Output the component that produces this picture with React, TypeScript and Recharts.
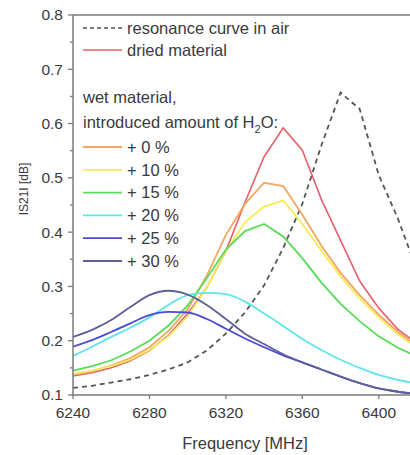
import { LineChart, Line, XAxis, YAxis, ReferenceLine } from 'recharts';

// frequency grid [MHz]
const freqs = [6240, 6250, 6260, 6270, 6280, 6290, 6300, 6310, 6320, 6330, 6340, 6350, 6360, 6370, 6380, 6390, 6400, 6410, 6420];

// |S21| [dB]
const air = [0.113, 0.117, 0.123, 0.129, 0.137, 0.147, 0.160, 0.182, 0.213, 0.252, 0.302, 0.371, 0.452, 0.560, 0.657, 0.627, 0.505, 0.425, 0.330];
const dried = [0.135, 0.141, 0.150, 0.163, 0.182, 0.210, 0.250, 0.298, 0.365, 0.455, 0.539, 0.592, 0.551, 0.460, 0.385, 0.310, 0.260, 0.221, 0.195];
const wet0 = [0.137, 0.144, 0.154, 0.168, 0.188, 0.218, 0.258, 0.320, 0.395, 0.452, 0.491, 0.485, 0.432, 0.375, 0.325, 0.284, 0.248, 0.216, 0.190];
const wet10 = [0.139, 0.145, 0.153, 0.165, 0.183, 0.208, 0.245, 0.298, 0.365, 0.418, 0.447, 0.458, 0.415, 0.366, 0.318, 0.278, 0.243, 0.212, 0.187];
const wet15 = [0.145, 0.153, 0.164, 0.180, 0.200, 0.228, 0.265, 0.315, 0.368, 0.402, 0.415, 0.392, 0.352, 0.307, 0.268, 0.236, 0.208, 0.187, 0.171];
const wet20 = [0.172, 0.189, 0.207, 0.224, 0.243, 0.266, 0.284, 0.288, 0.286, 0.272, 0.250, 0.227, 0.203, 0.183, 0.165, 0.150, 0.137, 0.128, 0.121];
const wet25 = [0.189, 0.201, 0.216, 0.232, 0.247, 0.253, 0.252, 0.240, 0.222, 0.204, 0.188, 0.173, 0.160, 0.147, 0.134, 0.122, 0.112, 0.106, 0.102];
const wet30 = [0.207, 0.220, 0.238, 0.262, 0.284, 0.292, 0.285, 0.266, 0.240, 0.213, 0.194, 0.175, 0.160, 0.147, 0.134, 0.122, 0.112, 0.106, 0.102];

const xTicks = [6240, 6280, 6320, 6360, 6400];
const yMajor = [0.1, 0.2, 0.3, 0.4, 0.5, 0.6, 0.7, 0.8];
const yMinor = [0.15, 0.25, 0.35, 0.45, 0.55, 0.65, 0.75];

const wetSeries = [
  { key: 'wet0', label: '+ 0 %', color: '#f5a560', values: wet0, curve: 'linear' },
  { key: 'wet10', label: '+ 10 %', color: '#f3ec58', values: wet10, curve: 'linear' },
  { key: 'wet15', label: '+ 15 %', color: '#58dc58', values: wet15, curve: 'linear' },
  { key: 'wet20', label: '+ 20 %', color: '#5ee6ea', values: wet20, curve: 'monotone' },
  { key: 'wet25', label: '+ 25 %', color: '#4a4ad6', values: wet25, curve: 'monotone' },
  { key: 'wet30', label: '+ 30 %', color: '#5e5e98', values: wet30, curve: 'monotone' },
];

const data = freqs.map((f, i) => {
  const row: any = { f, air: air[i], dried: dried[i] };
  wetSeries.forEach(s => { row[s.key] = s.values[i]; });
  return row;
});

const FONT = '"Liberation Sans", Arial, sans-serif';
const AXIS = '#7a7a7a';
const TEXT = '#3a3a3a';

function YTick(props: any) {
  const { x, y, payload } = props;
  const major = yMajor.some(v => Math.abs(v - payload.value) < 1e-9);
  return (
    <g>
      <line x1={x} x2={x - (major ? 5 : 3)} y1={y} y2={y} stroke={AXIS} strokeWidth={1.3} />
      {major && (
        <text x={x - 10} y={y} dy="0.35em" textAnchor="end" fontSize={15.5} fontFamily={FONT} fill={TEXT}>
          {payload.value.toFixed(1)}
        </text>
      )}
    </g>
  );
}

function XTick(props: any) {
  const { x, y, payload } = props;
  return (
    <g>
      <line x1={x} x2={x} y1={y} y2={y + 4} stroke={AXIS} strokeWidth={1.3} />
      <text x={x} y={y + 17.5} dy="0.35em" textAnchor="middle" fontSize={15.5} fontFamily={FONT} fill={TEXT}>
        {payload.value}
      </text>
    </g>
  );
}

function LegendBox() {
  const lx1 = 83, lx2 = 122, tx = 127, fs = 16.5;
  return (
    <g fontFamily={FONT} fontSize={fs} fill={TEXT}>
      <line x1={lx1} x2={lx2} y1={28} y2={28} stroke="#555" strokeWidth={1.6} strokeDasharray="4 3" />
      <text x={tx} y={28} dy="0.35em">resonance curve in air</text>
      <line x1={lx1} x2={lx2} y1={50} y2={50} stroke="#e8606a" strokeWidth={1.6} />
      <text x={tx} y={50} dy="0.35em">dried material</text>
      <text x={lx1} y={97} dy="0.35em">wet material,</text>
      <text x={lx1} y={122} dy="0.35em">
        introduced amount of H<tspan fontSize={11} dy={5}>2</tspan><tspan dy={-5}>O:</tspan>
      </text>
      {wetSeries.map((s, i) => {
        const y = 147 + i * 22.8;
        return (
          <g key={s.key}>
            <line x1={lx1} x2={lx2} y1={y} y2={y} stroke={s.color} strokeWidth={1.8} />
            <text x={tx} y={y} dy="0.35em">{s.label}</text>
          </g>
        );
      })}
    </g>
  );
}

export default function App() {
  return (
    <div style={{ position: 'fixed', left: 0, top: 0, width: 410, height: 455, overflow: 'hidden', background: '#fff' }}>
      <LineChart width={420} height={455} data={data} margin={{ top: 15, right: 3, left: 0, bottom: 0 }}>
        <XAxis
          dataKey="f"
          type="number"
          domain={[6240, 6420]}
          ticks={xTicks}
          allowDataOverflow
          height={60}
          tickSize={0}
          tickMargin={0}
          tickLine={false}
          tick={<XTick />}
          axisLine={{ stroke: AXIS, strokeWidth: 1.5 }}
        />
        <YAxis
          type="number"
          domain={[0.1, 0.8]}
          ticks={[...yMajor, ...yMinor].sort((a, b) => a - b)}
          allowDataOverflow
          width={73}
          tickSize={0}
          tickMargin={0}
          tickLine={false}
          tick={<YTick />}
          axisLine={{ stroke: AXIS, strokeWidth: 1.5 }}
        />
        <ReferenceLine y={0.8} stroke={AXIS} strokeWidth={1.5} />
        <Line dataKey="air" type="linear" stroke="#555" strokeWidth={1.8} strokeDasharray="5 4" dot={false} isAnimationActive={false} />
        <Line dataKey="dried" type="linear" stroke="#e8606a" strokeWidth={1.6} dot={false} isAnimationActive={false} />
        {wetSeries.map(s => (
          <Line key={s.key} dataKey={s.key} type={s.curve as any} stroke={s.color} strokeWidth={1.8} dot={false} isAnimationActive={false} />
        ))}
        <LegendBox />
        <text x={24} y={189} transform="rotate(-90 24 189)" textAnchor="middle" dy="0.35em" fontSize={12} fontFamily={FONT} fill={TEXT}>
          IS21I [dB]
        </text>
        <text x={245} y={443} textAnchor="middle" dy="0.35em" fontSize={16.5} fontFamily={FONT} fill={TEXT}>
          Frequency [MHz]
        </text>
      </LineChart>
    </div>
  );
}
